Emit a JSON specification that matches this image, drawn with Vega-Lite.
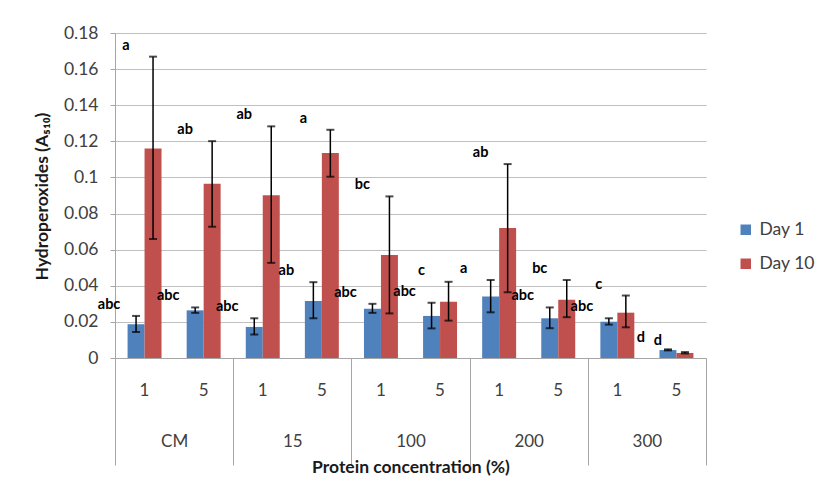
{
  "$schema": "https://vega.github.io/schema/vega-lite/v6.json",
  "width": 591,
  "height": 325,
  "autosize": {"type": "none"},
  "padding": {"left": 115, "top": 33, "right": 109, "bottom": 120},
  "background": "white",
  "config": {"font": "Lato", "view": {"stroke": null}},
  "data": {"values": [
    {"cat": "CM|1", "series": "Day 1", "value": 0.0187, "lo": 0.0144, "hi": 0.0233, "letter": "abc"},
    {"cat": "CM|5", "series": "Day 1", "value": 0.0264, "lo": 0.025, "hi": 0.028, "letter": "abc"},
    {"cat": "15|1", "series": "Day 1", "value": 0.0172, "lo": 0.013, "hi": 0.022, "letter": "abc"},
    {"cat": "15|5", "series": "Day 1", "value": 0.0316, "lo": 0.022, "hi": 0.042, "letter": "ab"},
    {"cat": "100|1", "series": "Day 1", "value": 0.0273, "lo": 0.025, "hi": 0.030, "letter": "abc"},
    {"cat": "100|5", "series": "Day 1", "value": 0.0233, "lo": 0.0164, "hi": 0.0306, "letter": "abc"},
    {"cat": "200|1", "series": "Day 1", "value": 0.034, "lo": 0.0253, "hi": 0.0432, "letter": "a"},
    {"cat": "200|5", "series": "Day 1", "value": 0.022, "lo": 0.0165, "hi": 0.028, "letter": "abc"},
    {"cat": "300|1", "series": "Day 1", "value": 0.0201, "lo": 0.0185, "hi": 0.022, "letter": "abc"},
    {"cat": "300|5", "series": "Day 1", "value": 0.0044, "lo": 0.0042, "hi": 0.0048, "letter": "d"},
    {"cat": "CM|1", "series": "Day 10", "value": 0.1161, "lo": 0.0659, "hi": 0.1669, "letter": "a"},
    {"cat": "CM|5", "series": "Day 10", "value": 0.0965, "lo": 0.0727, "hi": 0.1201, "letter": "ab"},
    {"cat": "15|1", "series": "Day 10", "value": 0.0901, "lo": 0.0527, "hi": 0.1283, "letter": "ab"},
    {"cat": "15|5", "series": "Day 10", "value": 0.1135, "lo": 0.1004, "hi": 0.1264, "letter": "a"},
    {"cat": "100|1", "series": "Day 10", "value": 0.057, "lo": 0.0247, "hi": 0.0895, "letter": "bc"},
    {"cat": "100|5", "series": "Day 10", "value": 0.0312, "lo": 0.0207, "hi": 0.0422, "letter": "c"},
    {"cat": "200|1", "series": "Day 10", "value": 0.072, "lo": 0.0364, "hi": 0.1074, "letter": "ab"},
    {"cat": "200|5", "series": "Day 10", "value": 0.0323, "lo": 0.0226, "hi": 0.0432, "letter": "bc"},
    {"cat": "300|1", "series": "Day 10", "value": 0.0251, "lo": 0.017, "hi": 0.0346, "letter": "c"},
    {"cat": "300|5", "series": "Day 10", "value": 0.0028, "lo": 0.0025, "hi": 0.0033, "letter": "d"}
  ]},
  "layer": [
    {
      "mark": {"type": "bar"},
      "encoding": {
        "x": {"field": "cat", "type": "nominal", "sort": null,
          "scale": {"paddingInner": 0, "paddingOuter": 0},
          "axis": {"title": null, "orient": "bottom", "labelExpr": "split(datum.value,'|')[1]", "labelAngle": 0,
            "ticks": false, "tickSize": 0, "domain": true, "domainColor": "#a6a6a6", "domainWidth": 1,
            "labelFontSize": 17, "labelColor": "#404040", "labelBaseline": "middle", "labelPadding": 32, "labelOverlap": false}},
        "xOffset": {"field": "series", "type": "nominal", "sort": ["Day 1", "Day 10"], "scale": {"paddingInner": 0, "paddingOuter": 0.74}},
        "y": {"field": "value", "type": "quantitative", "title": "Hydroperoxides (A₅₁₀)",
          "scale": {"domain": [0, 0.18], "nice": false},
          "axis": {"values": [0, 0.02, 0.04, 0.06, 0.08, 0.1, 0.12, 0.14, 0.16, 0.18], "format": "~g", "labelOverlap": false,
            "labelFontSize": 17.5, "labelColor": "#404040", "labelPadding": 12, "tickSize": 5, "tickColor": "#a6a6a6",
            "domainColor": "#a6a6a6", "gridColor": "#c0c0c0", "gridWidth": 1,
            "titleFontSize": 17.5, "titleFontWeight": "bold", "titleColor": "#1a1a1a", "titleX": -73, "titleY": 163, "titleBaseline": "middle"}},
        "color": {"field": "series", "type": "nominal", "sort": ["Day 1", "Day 10"],
          "scale": {"range": ["#4F81BD", "#C0504D"]},
          "legend": {"title": null, "orient": "none", "legendX": 622, "legendY": 188, "symbolType": "square", "symbolSize": 110,
            "symbolStrokeWidth": 0, "labelFontSize": 17.5, "labelColor": "#404040", "rowPadding": 15, "padding": 0, "labelOffset": 5}}
      }
    },
    {
      "mark": {"type": "rule", "color": "black", "strokeWidth": 1.5},
      "encoding": {
        "x": {"field": "cat", "type": "nominal", "sort": null,
          "scale": {"paddingInner": 0, "paddingOuter": 0},
          "axis": {"orient": "bottom", "title": "Protein concentration (%)", "domain": false, "tickBand": "extent",
            "tickSize": 107, "tickColor": "#a6a6a6", "tickWidth": 1,
            "tickOpacity": {"condition": {"test": "!datum.value || indexof(datum.value,'|5')>=0", "value": 1}, "value": 0},
            "labelExpr": "(datum.value && indexof(datum.value,'|1')>=0) ? split(datum.value,'|')[0] : ''", "labelOffset": 29.55, "labelAngle": 0,
            "labelBaseline": "middle", "labelPadding": -24, "labelFontSize": 17, "labelColor": "#404040", "labelOverlap": false, "labelFlush": false,
            "titleFontSize": 17.5, "titleFontWeight": "bold", "titleColor": "#1a1a1a", "titleX": 295.5, "titleY": 109, "titleBaseline": "middle"}},
        "xOffset": {"field": "series", "type": "nominal", "sort": ["Day 1", "Day 10"], "scale": {"paddingInner": 0, "paddingOuter": 0.74}},
        "y": {"field": "lo", "type": "quantitative", "title": "Hydroperoxides (A₅₁₀)",
          "axis": {"values": [0, 0.02, 0.04, 0.06, 0.08, 0.1, 0.12, 0.14, 0.16, 0.18], "format": "~g", "labelOverlap": false,
            "labelFontSize": 17.5, "labelColor": "#404040", "labelPadding": 12, "tickSize": 5, "tickColor": "#a6a6a6",
            "domainColor": "#a6a6a6", "gridColor": "#c0c0c0", "gridWidth": 1,
            "titleFontSize": 17.5, "titleFontWeight": "bold", "titleColor": "#1a1a1a", "titleX": -73, "titleY": 163, "titleBaseline": "middle"}},
        "y2": {"field": "hi"}
      }
    },
    {
      "mark": {"type": "tick", "color": "black", "thickness": 2, "size": 8},
      "encoding": {
        "x": {"field": "cat", "type": "nominal", "sort": null, "scale": {"paddingInner": 0, "paddingOuter": 0}, "axis": null},
        "xOffset": {"field": "series", "type": "nominal", "sort": ["Day 1", "Day 10"], "scale": {"paddingInner": 0, "paddingOuter": 0.74}},
        "y": {"field": "lo", "type": "quantitative", "title": "Hydroperoxides (A₅₁₀)",
          "axis": {"values": [0, 0.02, 0.04, 0.06, 0.08, 0.1, 0.12, 0.14, 0.16, 0.18], "format": "~g", "labelOverlap": false,
            "labelFontSize": 17.5, "labelColor": "#404040", "labelPadding": 12, "tickSize": 5, "tickColor": "#a6a6a6",
            "domainColor": "#a6a6a6", "gridColor": "#c0c0c0", "gridWidth": 1,
            "titleFontSize": 17.5, "titleFontWeight": "bold", "titleColor": "#1a1a1a", "titleX": -73, "titleY": 163, "titleBaseline": "middle"}}
      }
    },
    {
      "mark": {"type": "tick", "color": "black", "thickness": 2, "size": 8},
      "encoding": {
        "x": {"field": "cat", "type": "nominal", "sort": null, "scale": {"paddingInner": 0, "paddingOuter": 0}, "axis": null},
        "xOffset": {"field": "series", "type": "nominal", "sort": ["Day 1", "Day 10"], "scale": {"paddingInner": 0, "paddingOuter": 0.74}},
        "y": {"field": "hi", "type": "quantitative", "title": "Hydroperoxides (A₅₁₀)",
          "axis": {"values": [0, 0.02, 0.04, 0.06, 0.08, 0.1, 0.12, 0.14, 0.16, 0.18], "format": "~g", "labelOverlap": false,
            "labelFontSize": 17.5, "labelColor": "#404040", "labelPadding": 12, "tickSize": 5, "tickColor": "#a6a6a6",
            "domainColor": "#a6a6a6", "gridColor": "#c0c0c0", "gridWidth": 1,
            "titleFontSize": 17.5, "titleFontWeight": "bold", "titleColor": "#1a1a1a", "titleX": -73, "titleY": 163, "titleBaseline": "middle"}}
      }
    },
    {
      "mark": {"type": "text", "dx": -27, "dy": -11, "fontWeight": "bold", "fontSize": 14.5, "color": "black", "align": "center", "baseline": "middle"},
      "encoding": {
        "x": {"field": "cat", "type": "nominal", "sort": null, "scale": {"paddingInner": 0, "paddingOuter": 0}, "axis": null},
        "xOffset": {"field": "series", "type": "nominal", "sort": ["Day 1", "Day 10"], "scale": {"paddingInner": 0, "paddingOuter": 0.74}},
        "y": {"field": "hi", "type": "quantitative", "title": "Hydroperoxides (A₅₁₀)",
          "axis": {"values": [0, 0.02, 0.04, 0.06, 0.08, 0.1, 0.12, 0.14, 0.16, 0.18], "format": "~g", "labelOverlap": false,
            "labelFontSize": 17.5, "labelColor": "#404040", "labelPadding": 12, "tickSize": 5, "tickColor": "#a6a6a6",
            "domainColor": "#a6a6a6", "gridColor": "#c0c0c0", "gridWidth": 1,
            "titleFontSize": 17.5, "titleFontWeight": "bold", "titleColor": "#1a1a1a", "titleX": -73, "titleY": 163, "titleBaseline": "middle"}},
        "text": {"field": "letter"}
      }
    }
  ],
  "resolve": {"axis": {"x": "independent"}}
}
